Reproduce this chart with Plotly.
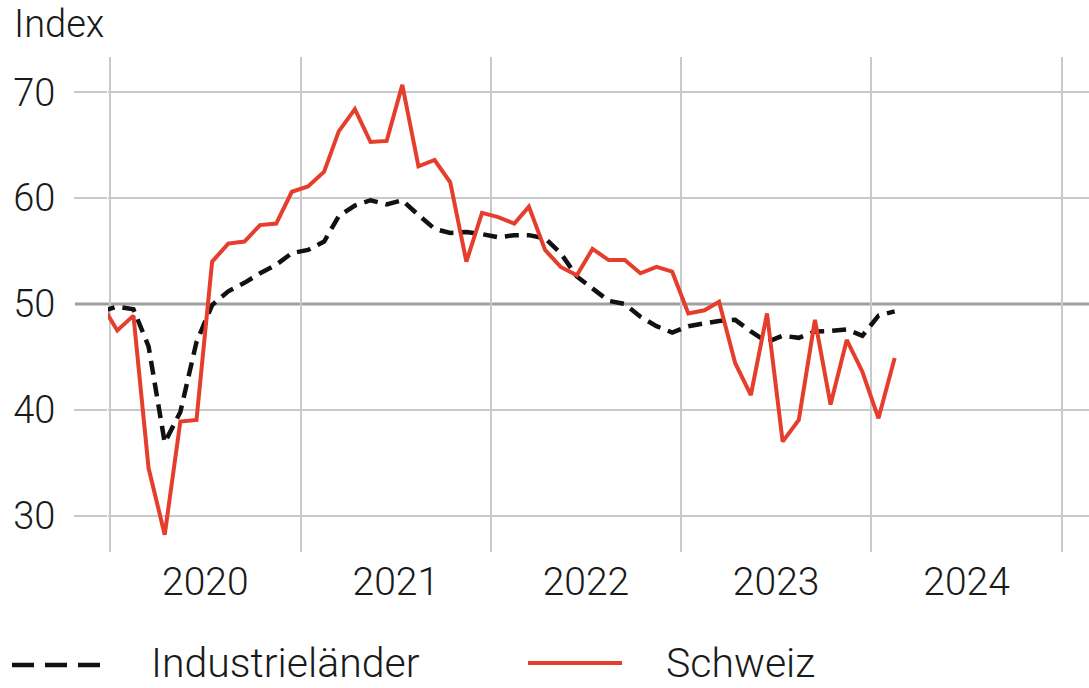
import plotly.graph_objects as go
import pandas as pd

# Monthly observations, Dec 2019 .. Feb 2024 (plotted mid-month)
months = pd.date_range("2019-12-01", "2024-02-01", freq="MS") + pd.Timedelta(days=14)

schweiz = [
    50.0,
    47.5, 48.9, 34.5, 28.2, 38.9, 39.05, 54.0, 55.7, 55.9, 57.45, 57.6, 60.6,
    61.1, 62.5, 66.3, 68.4, 65.3, 65.4, 70.7, 63.0, 63.6, 61.5, 54.0, 58.6,
    58.2, 57.6, 59.2, 55.1, 53.5, 52.7, 55.2, 54.15, 54.15, 52.9, 53.5, 53.05,
    49.1, 49.4, 50.2, 44.4, 41.4, 49.1, 37.0, 39.05, 48.5, 40.5, 46.6, 43.6,
    39.2, 44.9,
]
industrielaender = [
    49.3,
    49.75, 49.5, 46.0, 36.9, 39.8, 46.4, 49.9, 51.2, 52.0, 52.9, 53.7, 54.8,
    55.1, 55.9, 58.3, 59.3, 59.8, 59.4, 59.8, 58.4, 57.1, 56.7, 56.8, 56.6,
    56.3, 56.5, 56.5, 56.2, 54.8, 52.6, 51.5, 50.3, 50.0, 48.8, 47.9, 47.3,
    47.9, 48.2, 48.4, 48.5, 47.4, 46.4, 47.0, 46.8, 47.4, 47.45, 47.6, 47.0,
    48.9, 49.3,
]
y_ticks = [30, 40, 50, 60, 70]
threshold = 50
series_names = ["Industrieländer", "Schweiz"]
y_title = "Index"

RED = "#E63E2D"
BLACK = "#111111"
GRID = "#c9c9c9"
GRID50 = "#a0a0a0"
TEXT = "#1a1a1a"
FONT = "Roboto, Liberation Sans, Arial, sans-serif"
WEIGHT = 300

# figure geometry in page pixels (body margin removed via post_script)
W, H = 1089, 688
L, R, T, B = 108, 1089, 57, 552
PW, PH = R - L, B - T


def px(x):
    return (x - L) / PW


def py(y):
    return (B - y) / PH


fig = go.Figure()
fig.add_trace(go.Scatter(x=months, y=industrielaender, mode="lines", name=series_names[0],
                         line=dict(color=BLACK, width=4.5, dash="14px,8px"), showlegend=False))
fig.add_trace(go.Scatter(x=months, y=schweiz, mode="lines", name=series_names[1],
                         line=dict(color=RED, width=4), showlegend=False))

LEG_Y = 664
shapes = [
    # 50-line incl. its tick part left of the plot, under the traces
    dict(type="line", xref="paper", yref="y", x0=px(75), x1=1, y0=threshold, y1=threshold,
         line=dict(color=GRID50, width=3), layer="below"),
    # legend samples
    dict(type="line", xref="paper", yref="paper", x0=px(12), x1=px(105), y0=py(LEG_Y + 1), y1=py(LEG_Y + 1),
         line=dict(color=BLACK, width=4.5, dash="22px,11px")),
    dict(type="line", xref="paper", yref="paper", x0=px(528), x1=px(622), y0=py(LEG_Y - 1), y1=py(LEG_Y - 1),
         line=dict(color=RED, width=4)),
]

annotations = [
    dict(text=y_title, xref="paper", yref="paper", x=px(12), y=py(24), xanchor="left", yanchor="middle",
         showarrow=False, font=dict(size=38, color=TEXT, family=FONT, weight=WEIGHT)),
    dict(text=series_names[0], xref="paper", yref="paper", x=px(149), y=py(LEG_Y - 1), xanchor="left",
         yanchor="middle", showarrow=False, font=dict(size=41, color=TEXT, family=FONT, weight=WEIGHT)),
    dict(text=series_names[1], xref="paper", yref="paper", x=px(664), y=py(LEG_Y - 1), xanchor="left",
         yanchor="middle", showarrow=False, font=dict(size=41, color=TEXT, family=FONT, weight=WEIGHT)),
]

fig.update_layout(
    width=W, height=H,
    margin=dict(l=L, r=W - R, t=T, b=H - B, pad=0),
    paper_bgcolor="white", plot_bgcolor="white",
    font=dict(family=FONT, color=TEXT, size=37, weight=WEIGHT),
    shapes=shapes, annotations=annotations,
    xaxis=dict(
        type="date",
        range=["2019-12-28 03:50", "2025-02-22"],
        tick0="2020-01-01", dtick="M12", tickformat="%Y",
        ticklabelmode="period",
        showgrid=True, gridcolor=GRID, gridwidth=2,
        ticks="", showline=False, zeroline=False,
        tickfont=dict(size=39, color=TEXT, family=FONT, weight=WEIGHT),
        ticklabelstandoff=3,
    ),
    yaxis=dict(
        range=[26.57, 73.33],
        tickvals=y_ticks,
        showgrid=False,
        ticks="outside", ticklen=33, tickcolor="rgba(0,0,0,0)", tickwidth=2,
        showline=False, zeroline=False,
        tickfont=dict(size=38, color=TEXT, family=FONT, weight=WEIGHT),
        ticklabelstandoff=11,
        minor=dict(
            tickvals=[v for v in y_ticks if v != threshold],
            ticks="outside", ticklen=33, tickcolor=GRID, tickwidth=2,
            showgrid=True, gridcolor=GRID, gridwidth=2,
        ),
    ),
)

fig.write_html("out.html", config={"displayModeBar": False},
               post_script="document.body.style.margin='0';")
